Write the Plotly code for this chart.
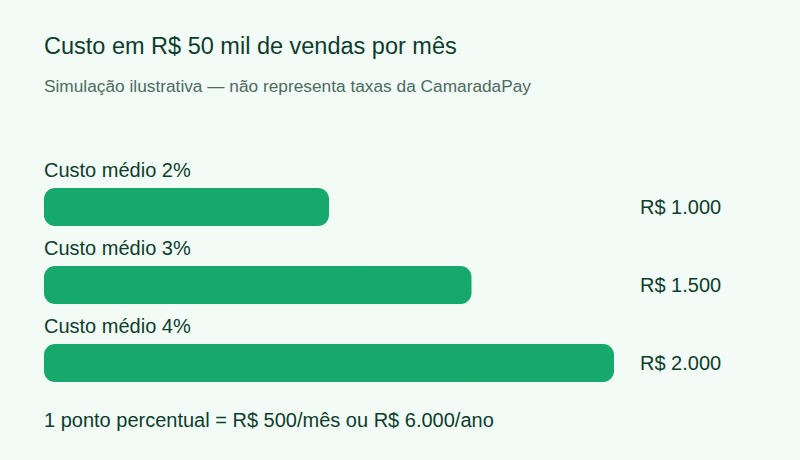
import plotly.graph_objects as go

categories = ["Custo médio 2%", "Custo médio 3%", "Custo médio 4%"]
costs = [1000, 1500, 2000]
value_labels = ["R$ 1.000", "R$ 1.500", "R$ 2.000"]

title_text = "Custo em R$ 50 mil de vendas por mês"
subtitle_text = "Simulação ilustrativa — não representa taxas da CamaradaPay"
footer_text = "1 ponto percentual = R$ 500/mês ou R$ 6.000/ano"

BG = "#f3fbf7"
GREEN = "#16a96b"
DARK = "#0d3d2c"
MUTED = "#4d6b5f"
FONT = "Liberation Sans, Arial, sans-serif"

TOP = 168
ROW = 78
PLOT_H = ROW * len(categories)

fig = go.Figure()

# cornerradius only rounds the far end of a bar, so each bar is drawn as two
# overlapping pieces: one growing right to the value, one growing left to 0
fig.add_trace(go.Bar(
    x=[c * 0.75 for c in costs], base=[c * 0.25 for c in costs],
    y=categories, orientation="h",
    marker=dict(color=GREEN, cornerradius=11, line=dict(width=0)),
    width=0.487, hoverinfo="skip",
))
fig.add_trace(go.Bar(
    x=[-c * 0.75 for c in costs], base=[c * 0.75 for c in costs],
    y=categories, orientation="h",
    marker=dict(color=GREEN, cornerradius=11, line=dict(width=0)),
    width=0.487, hoverinfo="skip",
))

for cat, lbl in zip(categories, value_labels):
    fig.add_annotation(x=0, y=cat, xref="paper", yref="y", text=cat,
                       showarrow=False, xanchor="left", yanchor="middle",
                       xshift=-2, yshift=37, font=dict(size=20, color=DARK))
    fig.add_annotation(x=1, y=cat, xref="paper", yref="y", text=lbl,
                       showarrow=False, xanchor="left", yanchor="middle",
                       xshift=24, font=dict(size=20, color=DARK))

fig.add_annotation(x=0, y=-(420 - TOP - PLOT_H) / PLOT_H, xref="paper", yref="paper",
                   text=footer_text, showarrow=False, xanchor="left",
                   yanchor="middle", xshift=-2, font=dict(size=20, color=DARK))

fig.add_annotation(x=0, y=1 + (TOP - 46) / PLOT_H, xref="paper", yref="paper",
                   text=title_text, showarrow=False, xanchor="left",
                   yanchor="middle", xshift=-2, font=dict(size=23.5, color=DARK))
fig.add_annotation(x=0, y=1 + (TOP - 86) / PLOT_H, xref="paper", yref="paper",
                   text=subtitle_text, showarrow=False, xanchor="left",
                   yanchor="middle", xshift=-2, font=dict(size=17.3, color=MUTED))

fig.update_layout(
    width=800, height=460,
    paper_bgcolor=BG, plot_bgcolor=BG,
    font=dict(family=FONT, color=DARK),
    margin=dict(l=44, r=186, t=TOP, b=460 - TOP - PLOT_H, pad=0),
    showlegend=False,
    barmode="overlay",
    xaxis=dict(range=[0, 2000], visible=False, fixedrange=True),
    yaxis=dict(range=[2.5, -0.5], visible=False, fixedrange=True),
)

fig.write_html("out.html", config={"displayModeBar": False},
               post_script="document.body.style.margin='0';"
                           "document.body.style.background='" + BG + "';")
